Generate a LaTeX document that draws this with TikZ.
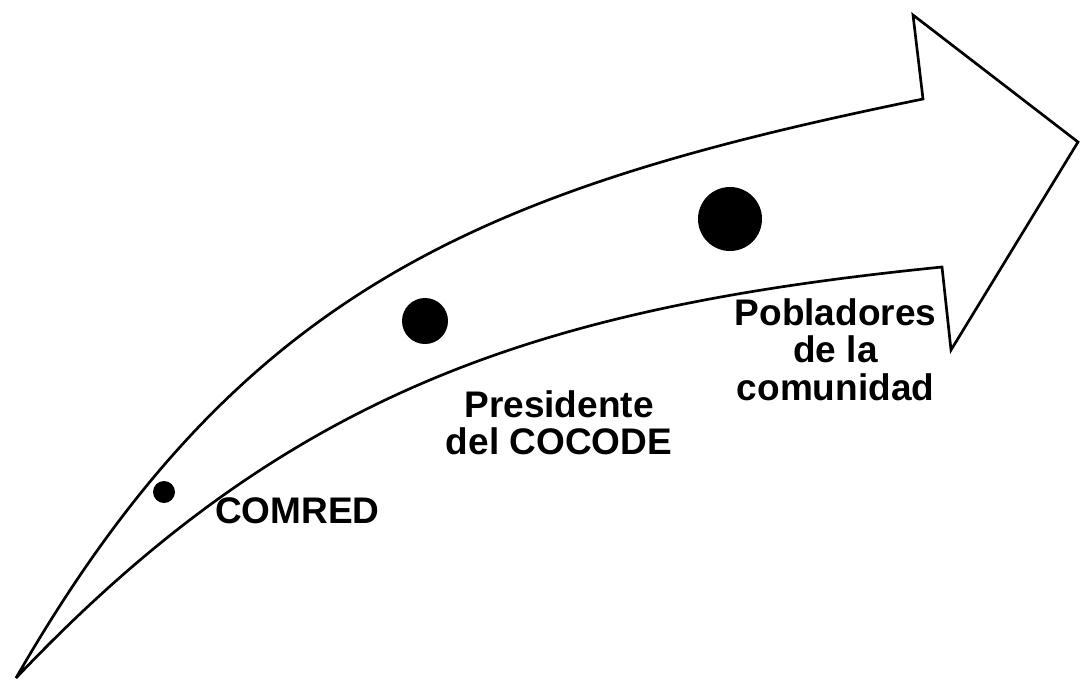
\documentclass[tikz,border=0pt]{standalone}
\usepackage{fontspec}
\setmainfont{Liberation Sans}
\begin{document}
\begin{tikzpicture}[x=0.75pt,y=-0.75pt,
  outline/.style={draw=black,line width=2pt,line join=miter,miter limit=4,fill=white},
  dot/.style={circle,fill=black,draw=none,inner sep=0pt},
  lbl/.style={font=\bfseries\fontsize{27.75}{28.2}\selectfont,align=center,inner sep=0pt,text=black}]
\useasboundingbox (0,0) rectangle (1081,683);
\fill[white] (0,0) rectangle (1081,683);
% curved arrow
\draw[outline] (16,678) .. controls (240,288.5) and (482,189) .. (923,99)
  -- (913,15) -- (1078,142) -- (951,350) -- (942,267)
  .. controls (544,307) and (291,388) .. (16,678) -- cycle;
% dots
\node[dot,minimum size=16.5pt] (d1) at (164,492) {};
\node[dot,minimum size=34.5pt] (d2) at (425,321) {};
\node[dot,minimum size=48pt] (d3) at (730,219) {};
% labels
\node[lbl,anchor=north west] (comred) at (215,497) {COMRED};
\node[lbl,anchor=north] (pres) at (559,390) {Presidente\\del COCODE};
\node[lbl,anchor=north] (pob) at (835.5,298) {Pobladores\\de la\\comunidad};
\end{tikzpicture}
\end{document}
